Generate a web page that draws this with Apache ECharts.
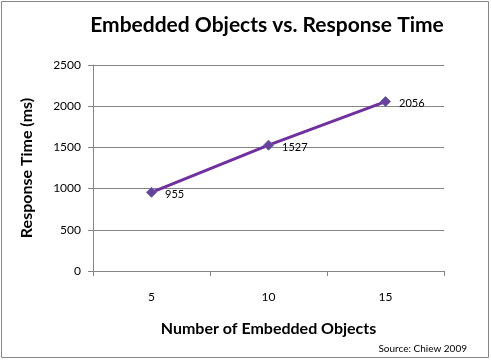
<!DOCTYPE html>
<html><head><meta charset="utf-8">
<script src="https://cdn.jsdelivr.net/npm/echarts@6/dist/echarts.min.js"></script>
<style>html,body{margin:0;padding:0;background:#fff}#c{width:491px;height:360px}</style>
</head><body><div id="c"></div>
<script>
var categories = ['5', '10', '15'];
var responseTimes = [955, 1527, 2056];
var yTicks = [0, 500, 1000, 1500, 2000, 2500];

var chart = echarts.init(document.getElementById('c'), null, {renderer: 'canvas'});
var font = 'Lato, "Open Sans", "DejaVu Sans", sans-serif';
chart.setOption({
  animation: false,
  backgroundColor: '#fff',
  graphic: [
    {type: 'rect', shape: {x: 1.5, y: 1.5, width: 487, height: 356}, style: {fill: 'none', stroke: '#868686', lineWidth: 1}},
    {type: 'text', x: 267, y: 15, style: {text: 'Embedded Objects vs. Response Time', font: 'bold 21px ' + font, fill: '#000', textAlign: 'center'}},
    {type: 'text', right: 24, top: 344, style: {text: 'Source: Chiew 2009', font: '10px ' + font, fill: '#000'}}
  ],
  grid: {left: 93, right: 47, top: 65, bottom: 89},
  xAxis: {
    type: 'category',
    data: categories,
    boundaryGap: true,
    name: 'Number of Embedded Objects',
    nameLocation: 'middle',
    nameGap: 50,
    nameTextStyle: {fontFamily: font, fontWeight: 'bold', fontSize: 16, color: '#000'},
    axisLine: {lineStyle: {color: '#868686', width: 1}},
    axisTick: {show: true, length: 5, lineStyle: {color: '#868686'}},
    axisLabel: {fontFamily: font, fontSize: 12, color: '#000', margin: 20},
    splitLine: {show: false}
  },
  yAxis: {
    type: 'value',
    min: yTicks[0],
    max: yTicks[yTicks.length - 1],
    interval: yTicks[1] - yTicks[0],
    name: 'Response Time (ms)',
    nameLocation: 'middle',
    nameGap: 58,
    nameTextStyle: {fontFamily: font, fontWeight: 'bold', fontSize: 16, color: '#000'},
    axisLine: {show: true, lineStyle: {color: '#868686'}},
    axisTick: {show: true, length: 5, lineStyle: {color: '#868686'}},
    axisLabel: {fontFamily: font, fontSize: 12, color: '#000', margin: 12, formatter: function (v) { return String(v); }},
    splitLine: {show: true, lineStyle: {color: '#868686', width: 1}}
  },
  series: [{
    type: 'line',
    data: responseTimes,
    symbol: 'diamond',
    symbolSize: 10,
    itemStyle: {color: '#6a3f9e', borderColor: '#5a6aa8', borderWidth: 1},
    lineStyle: {color: '#7030A0', width: 3},
    label: {show: true, position: 'right', distance: 8, fontFamily: font, fontSize: 11, color: '#000', offset: [0, 2]}
  }]
});
</script></body></html>
